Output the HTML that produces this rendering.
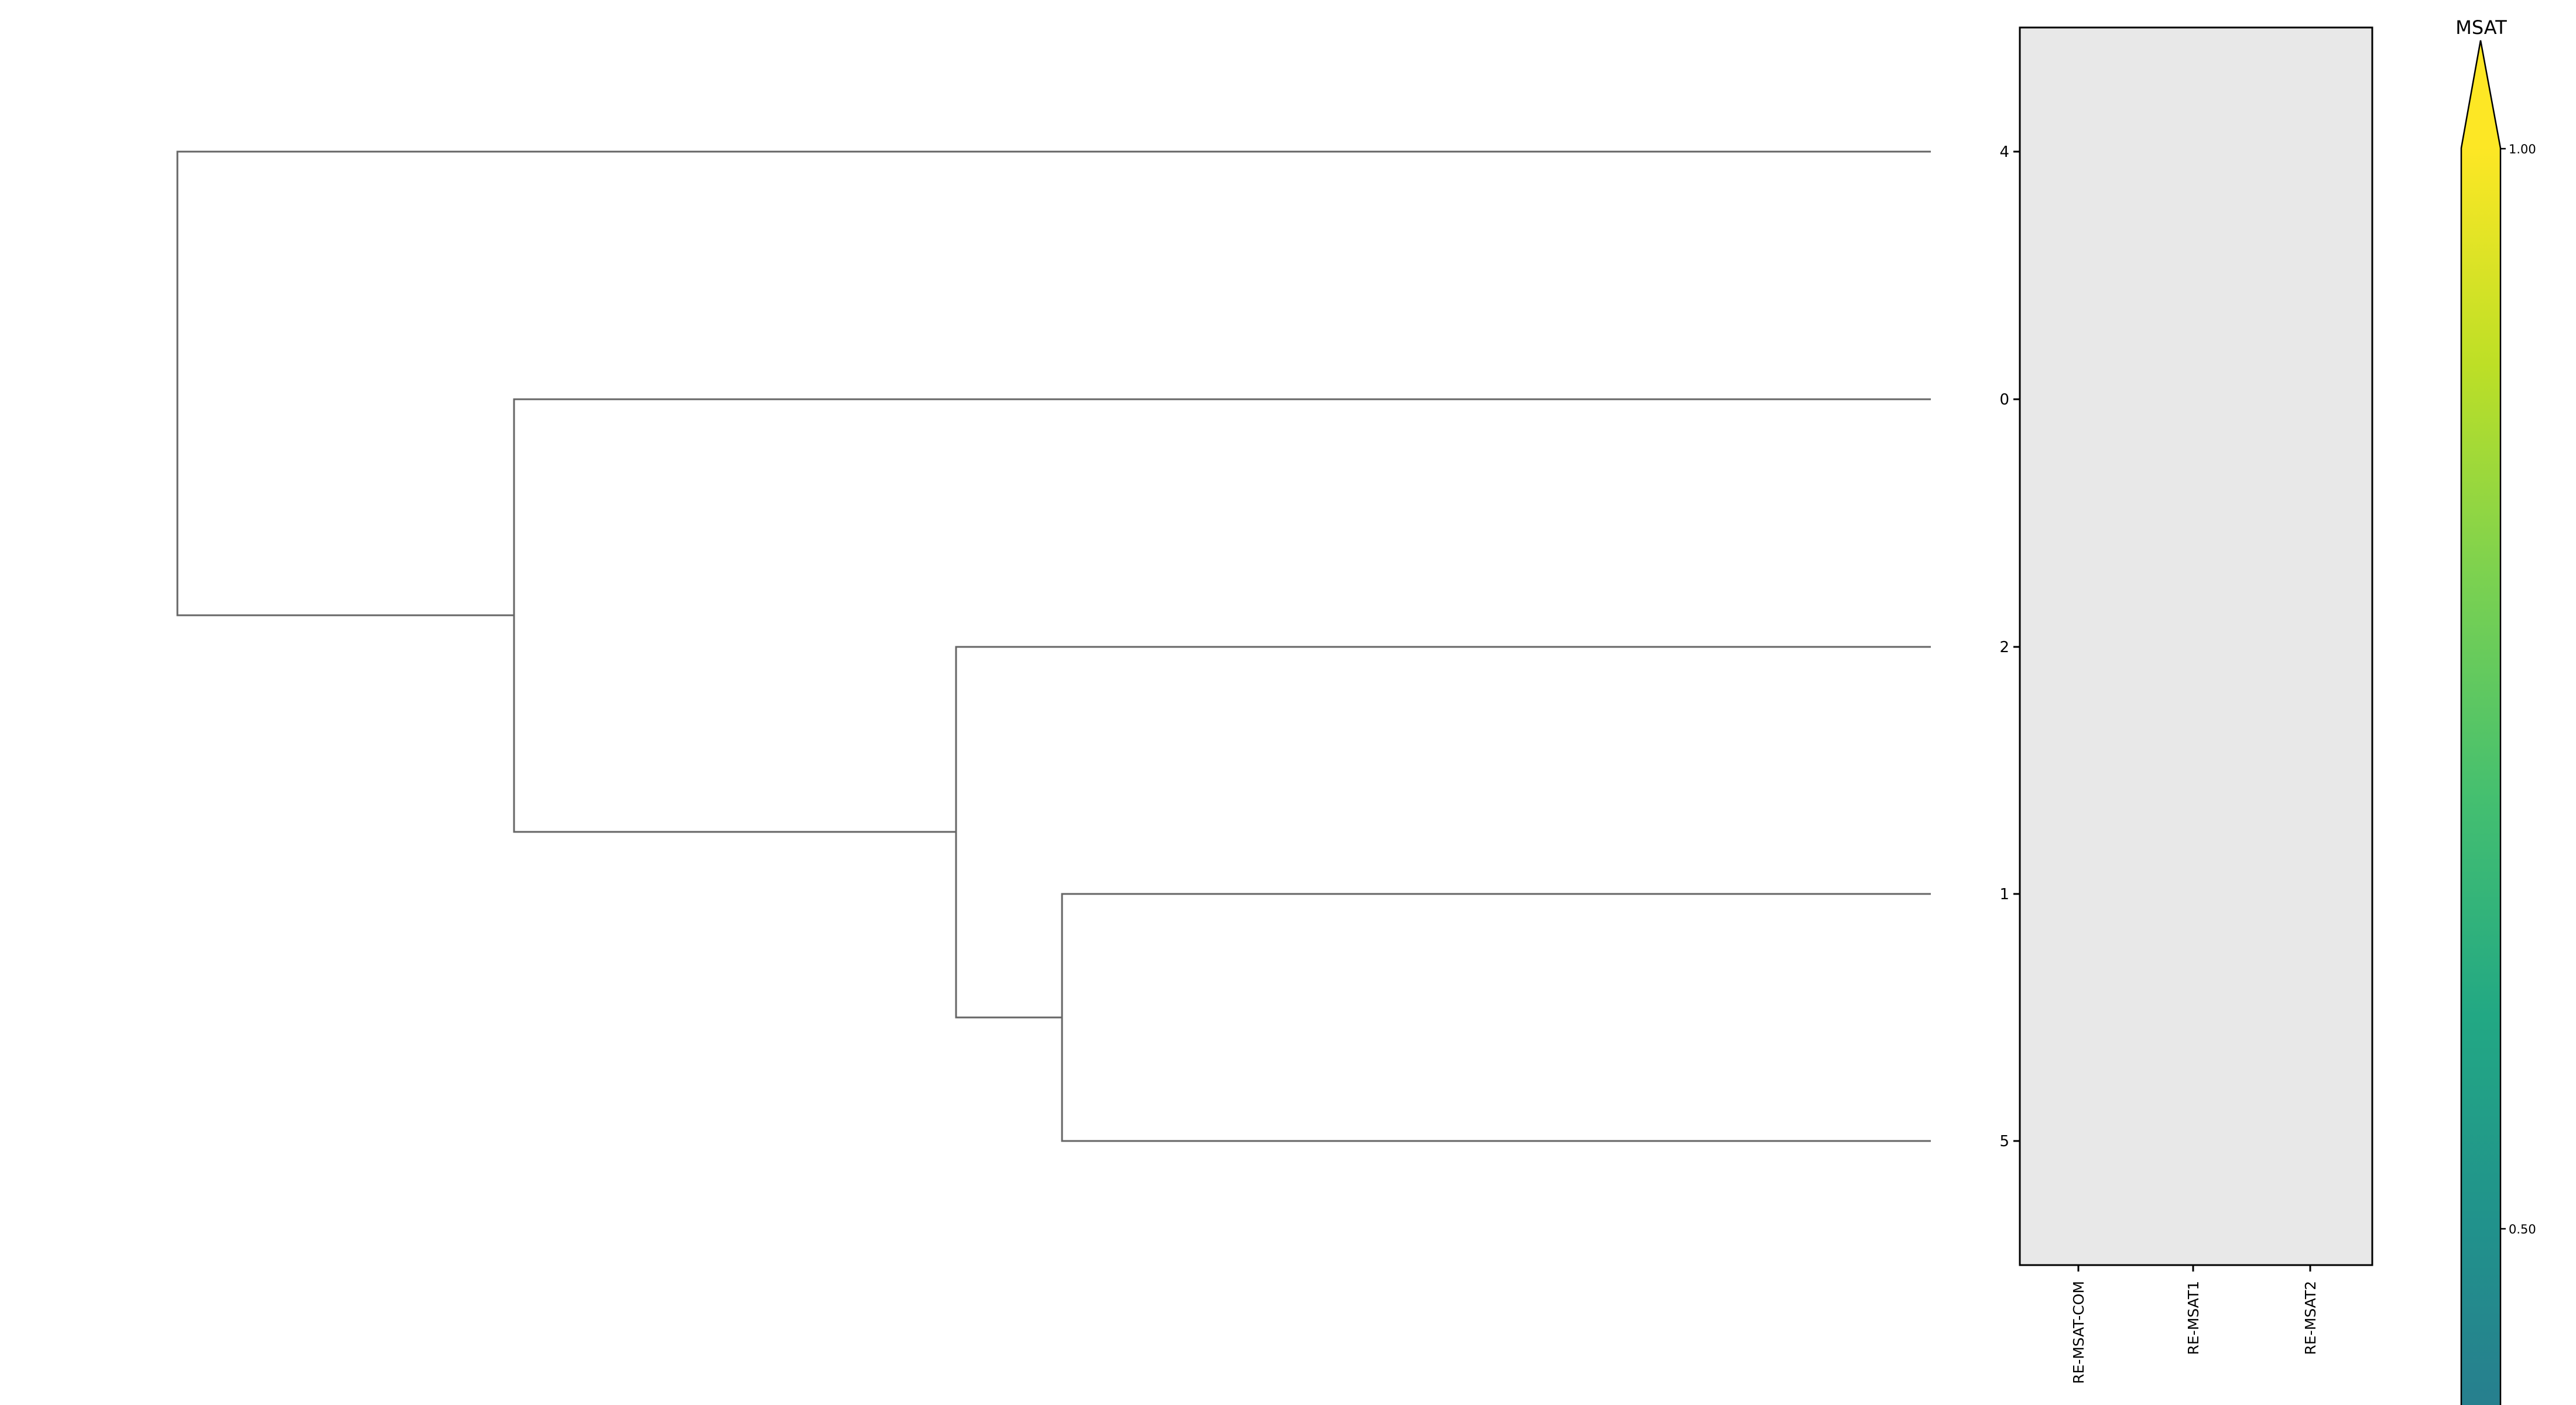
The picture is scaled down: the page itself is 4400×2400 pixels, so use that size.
<!DOCTYPE html>
<html><head><meta charset="utf-8"><style>html,body{margin:0;padding:0;background:#fff;}svg{display:block;}</style></head>
<body>
<svg width="4400" height="2400" viewBox="0 0 4400 2400" xmlns="http://www.w3.org/2000/svg" font-family="DejaVu Sans, Liberation Sans, sans-serif">
<defs>
<linearGradient id="vir" x1="0" y1="253" x2="0" y2="2400" gradientUnits="userSpaceOnUse">
<stop offset="0" stop-color="#fde725"/>
<stop offset="0.1727" stop-color="#bddf26"/>
<stop offset="0.3454" stop-color="#7ad151"/>
<stop offset="0.5181" stop-color="#44bf70"/>
<stop offset="0.6909" stop-color="#22a884"/>
<stop offset="0.8636" stop-color="#21918c"/>
<stop offset="1" stop-color="#277f8e"/>
</linearGradient>
</defs>
<g stroke="#666" stroke-width="3" fill="none">
<polyline points="3298,259 303,259 303,1051 878,1051"/>
<polyline points="3298,682 878,682 878,1421 1633,1421"/>
<polyline points="3298,1105 1633,1105 1633,1738 1814,1738"/>
<polyline points="3298,1527 1814,1527 1814,1949 3298,1949"/>
</g>
<rect x="3450" y="47" width="602" height="2114" fill="#e8e8e8" stroke="#000" stroke-width="3"/>
<g stroke="#000" stroke-width="3">
<line x1="3439" y1="259" x2="3450" y2="259"/>
<line x1="3439" y1="682" x2="3450" y2="682"/>
<line x1="3439" y1="1105" x2="3450" y2="1105"/>
<line x1="3439" y1="1527" x2="3450" y2="1527"/>
<line x1="3439" y1="1949" x2="3450" y2="1949"/>
<line x1="3550" y1="2161" x2="3550" y2="2172"/>
<line x1="3746" y1="2161" x2="3746" y2="2172"/>
<line x1="3946" y1="2161" x2="3946" y2="2172"/>
</g>
<g font-size="26" fill="#000" text-anchor="end">
<text x="3432" y="268">4</text>
<text x="3432" y="691">0</text>
<text x="3432" y="1114">2</text>
<text x="3432" y="1536">1</text>
<text x="3432" y="1958">5</text>
</g>
<g font-size="25" fill="#000" text-anchor="end">
<text transform="translate(3559,2188) rotate(-90)">RE-MSAT-COM</text>
<text transform="translate(3755,2188) rotate(-90)">RE-MSAT1</text>
<text transform="translate(3955,2188) rotate(-90)">RE-MSAT2</text>
</g>
<path d="M4204,2402 L4204,253 L4237,69 L4271,253 L4271,2402 Z" fill="url(#vir)" stroke="#000" stroke-width="2.5"/>
<g stroke="#000" stroke-width="2.5">
<line x1="4271" y1="254" x2="4280" y2="254"/>
<line x1="4271" y1="2099" x2="4280" y2="2099"/>
</g>
<g font-size="21" fill="#000">
<text x="4285" y="262">1.00</text>
<text x="4285" y="2107">0.50</text>
</g>
<text x="4238" y="58" font-size="32" text-anchor="middle" fill="#000">MSAT</text>
</svg>
</body></html>
